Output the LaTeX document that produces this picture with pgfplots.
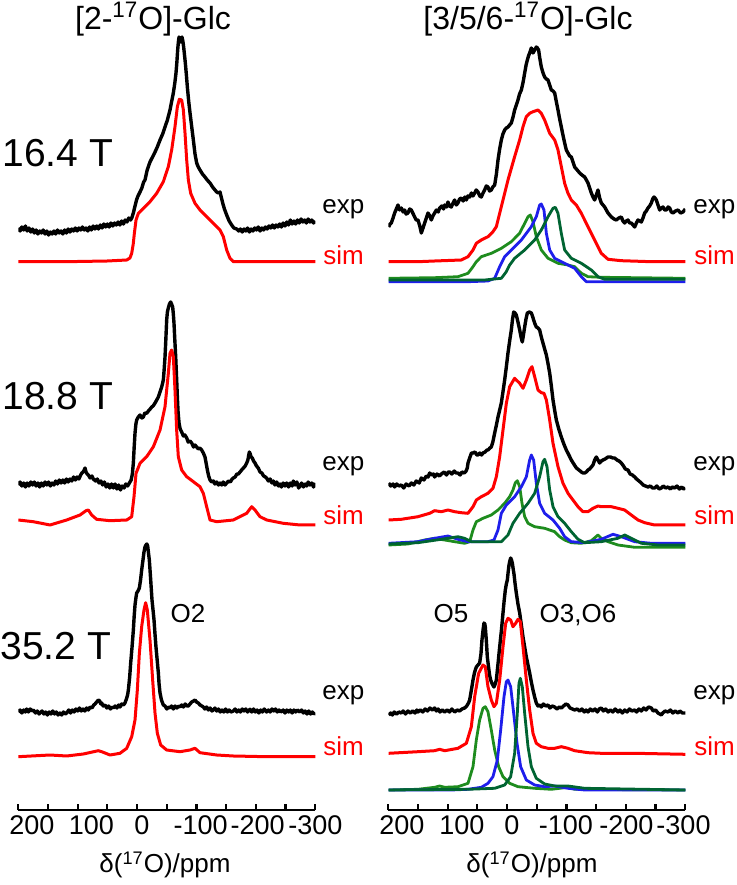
\documentclass[border=0pt]{standalone}
\usepackage{pgfplots}
\pgfplotsset{compat=1.18}
\usepackage{fontspec}
\setmainfont{Liberation Sans}
\definecolor{gA}{RGB}{30,140,30}
\definecolor{gB}{RGB}{0,100,50}
\definecolor{bl}{RGB}{30,30,235}
\newcommand\fs[1]{\fontsize{#1}{#1}\selectfont}
\begin{document}
\begin{tikzpicture}[x=1pt,y=1pt]
\path[use as bounding box] (0pt,0pt) rectangle (368pt,442.5pt);
\pgfplotsset{spec/.style={
  scale only axis, width=148.5pt, height=395pt, anchor=south west,
  x dir=reverse, xmin=-300, xmax=200, ymin=0, ymax=790,
  axis x line*=bottom, axis y line=none,
  xtick={200,150,...,-300}, xticklabels={},
  tick align=inside, major tick length=3pt,
  axis line style={line width=1.1pt, black},
  major tick style={line width=1.1pt, black},
  xticklabel style={font=\fs{13.5}, inner sep=2.5pt},
  extra x tick labels={200,100,0,-100,-200,-300},
  extra x tick style={major tick length=0pt},
  exp/.style={black, line width=1.7pt, line join=round},
  sim/.style={red, line width=1.5pt, line join=round},
  cmp/.style={line width=1.4pt, line join=round},
}}
% ---------------- left column ----------------
\begin{axis}[spec, at={(9.15pt,37.5pt)}, extra x ticks={177,77,-8,-107,-203,-300}]
% 16.4 T exp
\addplot[exp] coordinates {(200,582) (197,579) (194,583) (191,580) (188,584) (185,579) (182,582) (179,578) (176,581) (173,577) (170,580) (167,576) (164,579) (161,577) (158,580) (155,576) (152,579) (149,575) (146,578) (143,576) (140,579) (137,576) (134,580) (131,577) (128,579) (125,576) (122,580) (119,577) (116,581) (113,578) (110,581) (107,579) (104,582) (101,579) (98,582) (95,580) (92,583) (89,580) (86,582) (83,579) (80,583) (77,580) (74,584) (71,581) (68,584) (65,581) (62,585) (59,582) (56,586) (53,583) (50,586) (47,583) (44,587) (41,584) (38,587) (35,585) (32,588) (29,585) (26,589) (23,586) (20,590) (17,588) (14,592) (11,590) (9,592) (6.3,597) (3.5,604) (1,610) (-1.5,614) (-4.9,618) (-8,622) (-11,628) (-13.3,630) (-17,640) (-21.7,648) (-26,653) (-30.2,658) (-34,663) (-38.6,670) (-43,676) (-47,683) (-51,690) (-55.4,700) (-58,708) (-61,717) (-63.5,727) (-65.5,737) (-67,748) (-68.3,760) (-69.5,768) (-70.6,773) (-72,771) (-73.4,768) (-74.5,771) (-75.6,773) (-77,769) (-78.4,763) (-80,754) (-81.2,747) (-83,735) (-84.6,723) (-87,708) (-89.1,697) (-92,683) (-94.7,670) (-97.5,656) (-100.3,647) (-103,643) (-105.9,640) (-110,636) (-114.3,633) (-118,630) (-122.8,627) (-127,623) (-131.2,620) (-134,618) (-136.8,617) (-139.6,618) (-142,612) (-144.1,607) (-147,601) (-150.8,595) (-155,589) (-159.2,585) (-163,582) (-167.7,581) (-171,579) (-174,581) (-177,578) (-180,581) (-183,579) (-186,582) (-189,578) (-192,581) (-195,579) (-198,582) (-201,580) (-204,583) (-207,579) (-210,582) (-213,580) (-216,583) (-219,581) (-222,584) (-225,582) (-228,585) (-231,582) (-234,585) (-237,583) (-240,586) (-243,583) (-246,587) (-249,584) (-252,588) (-255,585) (-258,590) (-261,586) (-264,589) (-267,586) (-270,590) (-273,587) (-276,591) (-279,588) (-282,590) (-285,587) (-288,591) (-291,588) (-294,590) (-297,587) (-300,589)};
% 16.4 T sim
\addplot[sim] coordinates {(200,548.3) (150,548.3) (100,548.5) (50,549) (17.5,550) (12,552) (9.1,556.7) (6.5,566) (4.6,576.7) (1.8,590) (-2.1,596.7) (-10.5,601.7) (-21.7,608.3) (-33,616.7) (-44.2,628.3) (-52.6,643.3) (-58.2,660) (-63.8,683.3) (-67.8,703.3) (-71.1,710.7) (-75,710) (-77.9,700) (-80.7,676.7) (-83.5,650) (-86.3,630) (-90.2,616.7) (-97.5,606.7) (-105.9,600) (-117.1,593.3) (-128.4,586.7) (-139.6,580) (-145.2,573.3) (-150.8,560) (-156.4,551.7) (-162,548.3) (-200,548.3) (-250,548.3) (-300,548.3)};
% 18.8 T exp
\addplot[exp] coordinates {(200,325) (197,328) (194,324) (191,327) (188,323) (185,327) (182,324) (179,328) (176,325) (173,328) (170,324) (167,327) (164,323) (161,327) (158,324) (155,328) (152,325) (149,328) (146,324) (143,327) (140,325) (137,329) (134,326) (131,330) (128,327) (125,330) (122,327) (119,331) (116,328) (113,331) (110,329) (107,333) (104,330) (101,333) (98,331) (95,335) (93,337) (91,338) (89,340) (87.7,342) (86,338) (84,336) (82,335) (79,332) (76,334) (73.7,331) (70,329) (67,331) (64,327) (61,329) (58,325) (55,328) (52,323) (49,326) (46,322) (43,326) (40,322) (37,326) (34,321) (31,325) (28,320) (25,324) (22,322) (19,326) (16,324) (13,327) (10,330) (8,336) (6.3,347) (5,362) (3.5,377) (2,386) (0.7,390) (-2,393) (-4.9,395) (-8,392) (-10.5,393) (-13,397) (-16.1,396.7) (-19,399) (-22,401) (-24.6,403) (-27,404) (-30.2,407) (-33,410) (-35.8,413) (-38.5,418) (-41.4,423) (-43,427) (-44.2,430) (-45.5,440) (-47,453) (-48.5,472) (-49.8,490) (-51,498) (-52.6,502) (-54.5,506) (-56.5,508) (-58,506) (-59.9,503) (-61,496) (-62.1,487) (-63.5,470) (-65,453) (-66.5,432) (-67.8,413) (-69,398) (-70.6,387) (-72.5,381) (-75,378) (-78,374) (-80.5,375) (-83.5,372) (-86,368) (-89,369) (-91.9,367) (-95,363) (-97.5,365) (-100.3,363) (-103,361) (-105.5,362) (-108.7,360) (-111.5,357) (-114.3,353) (-116.5,346) (-118.3,340) (-120.5,334) (-122.8,330) (-125.5,328) (-128.4,329) (-131,326) (-134,328) (-137,325) (-139.6,327) (-142.5,325) (-145,328) (-148,325) (-150.8,327) (-154,329) (-157,328) (-160,331) (-162,332) (-165,333) (-168,336) (-170.5,336) (-173.3,338) (-176,340) (-179,342) (-182,344) (-184.5,347) (-186.5,350) (-188,355) (-189,358) (-190.5,356) (-192,353) (-194,352) (-196,349) (-198.5,347) (-201,344) (-204,342) (-207,338) (-210,337) (-213,334) (-216,333) (-218.2,331.7) (-221,329) (-224,331) (-227,327) (-229.4,329) (-232,325) (-235,328) (-238,324) (-240.6,326) (-243,323) (-246,327) (-249,324) (-251.8,327) (-255,323) (-258,327) (-261,324) (-263,329) (-266,325) (-269,328) (-272,322) (-274.3,324) (-277,327) (-280,323) (-283,326) (-285.5,324) (-288,328) (-291,325) (-294,327) (-297,323) (-300,327)};
% 18.8 T sim
\addplot[sim] coordinates {(200,290) (174.7,288.3) (146.6,285) (118.6,290) (96.1,295) (86,299.3) (82.1,300) (76.5,295) (68.1,290.7) (45.6,289.3) (17.5,290) (9.1,293.3) (5.2,313.3) (1.8,336.7) (-4.9,346.7) (-16.1,353.3) (-27.4,363.3) (-38.6,380) (-47,403.3) (-52.6,436.7) (-55.4,456.7) (-58.2,460) (-61,453.3) (-63.8,420) (-66.6,380) (-69.4,353.3) (-75,340) (-83.5,333.3) (-94.7,328.3) (-105.9,323.3) (-111.5,316.7) (-117.1,303.3) (-122.8,290) (-134,288.3) (-162,290) (-184.5,296.7) (-192.9,303.3) (-198.5,300) (-206.9,293.3) (-218.2,290) (-246.2,286.7) (-274.3,285) (-300,285)};
% 35.2 T exp
\addplot[exp] coordinates {(200,98) (197,100) (194,97) (191,100) (188,98) (185.9,101) (183,98) (180,101) (177,99) (174.7,100) (171,97) (168,99) (165,96) (163.5,97) (160,99) (157,96) (154,98) (151,95) (148,98) (145,96) (142,99) (139,96) (136,98) (133,95) (130,97) (127,95) (124,98) (121,96) (118.6,97) (115,100) (112,97) (109,100) (106,98) (103,101) (100,99) (97,102) (94,99) (91,101) (88,99) (85,102) (82,100) (79,103) (76,102) (73,105) (70.9,106) (68,108) (65.3,110) (63,109) (61,106) (59.6,107) (57,104) (54,105) (51,102) (48,104) (45,101) (42,103) (40,102) (37,104) (34,102) (31,105) (28.8,103) (26,106) (23,105) (20.4,107) (18,111) (16,115) (14.7,120) (12.5,133) (10.8,147) (8.5,163) (6.3,180) (5,193) (3.5,205) (2,212) (0.7,217) (-1.5,219) (-3.8,222) (-5.8,230) (-7.7,240) (-9.7,249) (-11.6,258) (-13.3,263) (-15,265) (-16.4,266) (-17.8,264) (-19.2,257) (-20.6,250) (-22,238) (-22.9,230) (-24,220) (-25.1,210) (-27,199) (-28.5,190) (-30,177) (-31.8,163) (-33.8,150) (-35.8,137) (-37,126) (-38.6,117) (-41,110) (-44.2,105) (-47,104) (-50,101) (-53,103) (-55.4,102) (-58,104) (-61,101) (-64,104) (-67,102) (-70,104) (-72.2,103) (-75,105) (-78,103) (-81,106) (-84,104) (-86.3,104) (-89,106) (-92,108) (-95,109) (-97.5,110) (-100,108) (-103.1,107) (-106,105) (-109,104) (-111.5,103) (-114,101) (-117,103) (-120,100) (-123,102) (-126,99) (-128.4,100) (-131,102) (-134,99) (-137,101) (-140,98) (-143,100) (-146,98) (-149,101) (-152,98) (-155,100) (-158,98) (-162,99) (-165,101) (-168,98) (-171,100) (-174,98) (-177,101) (-180,99) (-183,101) (-186,98) (-190,100.7) (-193,98) (-196,101) (-199,98) (-202,100) (-205,97) (-208,100) (-211,98) (-214,101) (-218,98) (-221,100) (-224,98) (-227,101) (-230,99) (-233,101) (-236,98) (-239,100) (-242,98) (-246,100) (-249,97) (-252,100) (-255,98) (-258,100) (-261,97) (-264,100) (-267,98) (-270,100) (-274,98) (-277,100) (-280,97) (-283,99) (-286,96) (-289,99) (-292,96) (-295,98) (-298,96) (-300,97)};
% 35.2 T sim
\addplot[sim] coordinates {(200,53.3) (146.6,55) (118.6,54) (90.5,56) (65.3,59.3) (59.6,58.3) (45.6,55) (28.8,56.7) (17.5,61.7) (9.1,73.3) (3.5,90) (-0.4,120) (-3.8,156.7) (-7.7,183.3) (-11.6,200) (-14.4,207.3) (-17.2,200) (-21.7,170) (-26.2,130) (-30.2,96.7) (-34.1,76.7) (-39.7,65) (-49.8,60) (-72.2,58.3) (-89.1,60) (-97.5,61.7) (-105.9,57.3) (-134,55) (-162,54) (-218.2,53.3) (-300,53.3)};
\end{axis}
% ---------------- right column ----------------
\begin{axis}[spec, at={(194.15pt,37.5pt)}, extra x ticks={177,76,-8,-99,-201,-297}]
% 16.4 T exp
\addplot[exp] coordinates {(199.4,583) (197,586) (194.9,587) (192,592) (189.3,597) (186.5,601) (183.7,605) (181,600) (178.1,602) (175,598) (172.5,600) (170,596) (166.9,597) (164,601) (161.2,600) (158,596) (155.6,593) (153,590) (150,590) (147,584) (144.4,577) (141.5,582) (138.8,587) (136,592) (133.2,597) (130,594) (127.6,590) (125,594) (122,597) (119,600) (116,598) (113.5,602) (110,604) (107,601) (105.1,605) (102,603) (99.5,608) (97,604) (93.9,603) (91,607) (88.3,610) (85.5,605) (82.7,607) (80,611) (77.1,612) (74,609) (71,613) (68.6,610) (66,614) (63,613) (60,617) (57.5,614) (54.6,617) (52,620) (49,618) (46,614) (43.4,613) (40.5,617) (37.8,620) (35,624) (32.2,623) (29.5,619) (26.6,620) (24,623) (20.9,625) (18,636) (15.3,650) (12.5,661) (9.7,670) (7,676) (4.1,680) (1.3,682) (-1.5,683) (-4.3,685) (-7.1,687) (-10,693) (-12.7,700) (-15.5,705) (-18.3,710) (-21,716) (-24,720) (-27,728) (-29.6,737) (-32,745) (-34.1,750) (-36,754) (-38,757) (-40.8,762) (-42.3,760) (-43.6,757) (-46.5,760) (-49.2,763) (-51,762) (-53.1,760) (-55,752) (-57.6,743) (-60.5,737) (-63.2,733) (-66,731) (-68.9,730) (-71.7,725) (-74.5,720) (-77.3,719) (-80.1,717) (-83,708) (-85.7,700) (-88.5,691) (-91.3,683) (-94,675) (-96.9,667) (-99.7,660) (-102.5,657) (-105.3,654) (-108.1,653) (-111,648) (-113.7,643) (-118,640) (-122.2,637) (-126,635) (-130.6,633) (-133.5,630) (-136.2,627) (-139,622) (-141.8,617) (-144.6,613) (-147.4,610) (-150.2,615) (-153,620) (-155.8,612) (-158.6,607) (-161.5,605) (-164.3,603) (-167,600) (-169.9,597) (-172.7,595) (-175.5,593) (-180,591) (-183.9,590) (-188,592) (-192.3,593) (-195,589) (-197.9,587) (-200.7,589) (-203.5,590) (-206.3,587) (-209.1,587) (-212,585) (-214.8,583) (-217.6,587) (-220.4,590) (-223.2,589) (-226,588) (-228.8,592) (-231.6,597) (-234.4,599) (-237.2,602) (-240,604) (-242.8,607) (-245,611) (-247.3,613) (-249,612) (-251.2,610) (-254,605) (-256.9,600) (-259.7,602) (-262.5,603) (-265.3,600) (-268.1,600) (-271,603) (-273.7,602) (-276.5,598) (-279.3,597) (-283.5,599) (-287.7,600) (-292,597) (-296.1,598) (-300,601)};
% 16.4 T sim
\addplot[sim] coordinates {(199.4,548.3) (150,548.3) (122,549) (77.1,550) (65.8,553.3) (57.4,560) (51.8,566.7) (43.4,570) (32.2,573.3) (23.8,578.3) (18.1,583.3) (12.5,596.7) (6.9,610) (-1.5,630) (-12.7,653.3) (-21.1,670) (-26.8,683.3) (-32.4,693.3) (-38,696.7) (-43.6,698.3) (-52,700) (-57.6,696.7) (-63.2,690) (-71.7,676.7) (-80.1,670) (-85.7,660) (-91.3,643.3) (-96.9,626.7) (-102.5,616.7) (-108.1,610) (-116.5,605) (-125,596.7) (-136.2,583.3) (-147.4,570) (-158.6,556.7) (-169.9,550.7) (-192.3,549.3) (-242.8,548.3) (-300,548.3)};
% 16.4 T components
\addplot[gA, cmp] coordinates {(199.4,531.7) (122,532.3) (82.7,533.3) (65.8,536.7) (57.4,543.3) (51.8,548.3) (43.4,553.3) (26.6,556.7) (9.7,561.7) (-7.1,568.3) (-21.1,576.7) (-29.6,586.7) (-35.2,593.3) (-39.1,595) (-43.6,588.3) (-49.2,573.3) (-57.6,560) (-68.9,551.7) (-85.7,546.7) (-102.5,545) (-113.7,543.3) (-125,536.7) (-136.2,533.3) (-158.6,532.7) (-300,531.7)};
\addplot[bl, cmp] coordinates {(199.4,528.3) (65.8,528.3) (32.2,529) (20.9,531.7) (12.5,543.3) (4.1,553.3) (-7.1,560) (-24,570) (-40.8,583.3) (-49.2,593.3) (-54.8,605) (-57.6,606) (-62.1,600) (-66.1,576.7) (-71.7,560) (-80.1,551.7) (-96.9,546.7) (-113.7,541.7) (-125,533.3) (-133.4,528.3) (-300,528.3)};
\addplot[gB, cmp] coordinates {(199.4,530) (37.8,530) (9.7,531.7) (1.3,538.3) (-4.3,545) (-12.7,551.7) (-29.6,560) (-46.4,570) (-57.6,580) (-68.9,593.3) (-77.3,601.7) (-81.2,602.7) (-85.7,596.7) (-91.3,576.7) (-96.9,560) (-108.1,551.7) (-125,546.7) (-141.8,540) (-153,533.3) (-164.3,530.7) (-300,530.7)};
% 18.8 T exp
\addplot[exp] coordinates {(199.4,327) (196,324) (192,326) (189.3,323) (186,326) (182,324) (178.1,325) (174,322) (170,326) (165,324) (161.2,327) (157,325) (153,329) (148,327) (144.4,332) (140,330) (136,334) (133,333) (130.4,337) (127,335) (124,336) (122,333) (118,336) (114,334) (110.7,336) (106,338) (102,335) (99,338) (96.7,338) (93,336) (89,339) (86,337) (82.7,337) (79,335) (76,338) (72,337) (69,339) (67,342) (65.8,347) (63,352) (60,357) (57.4,357) (54,358) (51,355) (49,355) (46,357) (43,355) (40.6,357) (37,358) (34,360) (32.2,360) (29,362) (26.6,363) (24,368) (20.9,377) (18,385) (15.3,393) (12.5,400) (9.7,407) (7,418) (4.1,430) (1.3,443) (-1.5,457) (-4.3,469) (-7.1,480) (-9,490) (-11.1,498) (-13.3,497) (-15.5,495) (-18.3,488) (-21.2,480) (-23.5,473) (-25.6,468) (-27.5,475) (-29.6,483) (-31.8,491) (-34.1,497) (-37.5,498) (-40.8,497) (-42.7,494) (-44.7,490) (-47,486) (-49.2,483) (-52,482) (-54.8,480) (-57.6,473) (-60.4,467) (-63.2,461) (-66.1,455) (-69,446) (-71.7,437) (-74.5,424) (-77.3,410) (-80,400) (-82.9,390) (-87,381) (-91.3,373) (-95.5,366) (-99.7,360) (-104,355) (-108.1,350) (-112.3,346) (-116.6,342) (-121,340) (-125,338) (-127.8,337) (-130.6,337) (-133.4,338) (-136.2,340) (-139,341) (-141.8,343) (-144.6,345) (-147.4,350) (-150.2,353) (-153,350) (-155.8,347) (-158.6,349) (-161.4,350) (-165,351) (-169.9,353) (-174,353) (-178,352) (-181.1,352) (-185,350) (-188.5,349) (-192.3,347) (-196,344) (-199,341) (-203.5,340) (-207,336) (-211,335) (-214.8,333) (-218,331) (-222,329) (-226,327) (-229,325) (-233,324) (-237.2,323) (-241,324) (-245,322) (-248.4,322) (-252,324) (-256,321) (-259.7,322) (-263,324) (-267,322) (-270.9,323) (-275,321) (-278,323) (-282.1,322) (-286,324) (-290,321) (-294,323) (-297,321) (-300,322)};
% 18.8 T sim
\addplot[sim] coordinates {(199.4,290) (178.1,290.7) (150,293.3) (130.4,296.7) (122,299.3) (110.7,298.3) (99.5,300) (88.3,298.3) (77.1,297.3) (65.8,296.7) (57.4,303.3) (51.8,310) (43.4,313.3) (32.2,316.7) (23.8,321.7) (18.1,333.3) (12.5,353.3) (6.9,380) (1.3,406.7) (-4.3,423.3) (-12.7,431.7) (-21.2,426.7) (-26.8,421.7) (-32.4,430) (-38,440) (-41.9,443.3) (-46.4,433.3) (-52,420) (-57.6,417.3) (-62.1,416.7) (-66.1,410) (-71.7,390) (-77.3,366.7) (-85.7,343.3) (-94.1,326.7) (-102.5,316.7) (-110.9,310) (-119.4,303.3) (-127.8,298.3) (-136.2,298.3) (-144.6,301.7) (-153,304) (-158.6,303.3) (-167.1,303.3) (-175.5,303.3) (-186.7,301.7) (-197.9,300) (-209.1,295) (-220.4,290) (-231.6,287.3) (-248.4,285) (-300,285)};
% 18.8 T components
\addplot[gA, cmp] coordinates {(199.4,265) (166.9,266) (138.8,270) (122,271.7) (105.1,270) (88.3,268.3) (71.5,266.7) (63,268.3) (57.4,280) (51.8,288.3) (40.6,291.7) (26.6,295) (15.3,300) (4.1,306.7) (-4.3,313.3) (-9.9,320) (-13.9,327.3) (-17.2,329.3) (-21.2,323.3) (-25.1,306.7) (-29.6,293.3) (-35.2,286.7) (-46.4,283.3) (-63.2,281.7) (-80.1,278.3) (-88.5,273.3) (-96.9,270) (-108.1,267.3) (-125,266.7) (-141.8,269.3) (-153,275) (-158.6,271.7) (-169.9,268.3) (-186.7,265) (-214.8,262.7) (-300,262.7)};
\addplot[bl, cmp] coordinates {(199.4,266.7) (150,268.3) (122,271.7) (99.5,274) (82.7,270.7) (65.8,268.3) (32.2,268.3) (22.1,270) (15.3,280) (9.7,296.7) (1.3,305) (-12.7,313.3) (-24,323.3) (-32.4,333.3) (-38,350) (-40.8,355) (-44.7,350) (-49.2,326.7) (-54.8,306.7) (-63.2,296.7) (-77.3,290) (-88.5,281.7) (-96.9,273.3) (-108.1,268.3) (-130.6,267.3) (-158.6,270.7) (-178.3,275.7) (-192.3,273.3) (-214.8,268.3) (-242.8,266.7) (-300,266.7)};
\addplot[gB, cmp] coordinates {(199.4,266) (150,267.3) (110.7,270.7) (82.7,273.3) (71.5,271.7) (60.2,268.3) (9.7,268.3) (-1.5,275) (-9.9,286.7) (-21.2,296.7) (-35.2,306.7) (-46.4,316.7) (-54.8,333.3) (-60.4,348.3) (-63.2,350.7) (-67.2,343.3) (-71.7,320) (-77.3,303.3) (-85.7,293.3) (-96.9,286.7) (-108.1,278.3) (-119.4,270.7) (-130.6,267.3) (-158.6,268.3) (-186.7,271.7) (-197.9,275) (-209.1,271.7) (-226,266.7) (-254,265) (-300,265)};
% 35.2 T exp
\addplot[exp] coordinates {(199.4,95) (196,97) (193,95) (190,98) (186,96) (182,98) (178.1,97) (175,99) (171,96) (167,99) (163,97) (159,99) (155,97) (152,100) (150,98) (146,100) (142,98) (138,101) (134,99) (130,102) (126,100) (122,102) (119,99) (116,101) (113,98) (109,100) (105.1,98) (101,100) (97,98) (93,101) (88.3,98) (84,100) (80,99) (76,101) (71.5,102) (68,104) (65,107) (63,110) (61,117) (59,124) (57.4,130) (55,137) (53,141) (51.8,143) (49,145) (46.2,147) (44,156) (42.3,170) (40.5,180) (38.9,187) (37.5,186) (36.7,183) (35,170) (33.3,153) (31,142) (29.5,135) (27.7,130) (25,126) (22.1,123) (20,126) (18.1,130) (15.5,145) (12.5,163) (9.5,180) (6.9,197) (5,209) (3,220) (1.3,226) (-0.4,230) (-1.8,238) (-3.2,245) (-4.6,249) (-6,252) (-7.4,250) (-8.8,247) (-10,242) (-11.6,236) (-13.5,226) (-15.5,217) (-18.3,206) (-21.2,197) (-24,185) (-26.8,173) (-29.6,163) (-32.4,153) (-35.2,145) (-38,137) (-40.8,128) (-43.6,120) (-46.4,113) (-49.2,107) (-52,104) (-55,105) (-57.6,103) (-61,106) (-65,104) (-68.9,105) (-72,102) (-76,104) (-80.1,103) (-84,101) (-88,103) (-91.3,102) (-95,104) (-99,106) (-102.5,105) (-106,102) (-110,101) (-113.7,100) (-118,101) (-122,99) (-126,101) (-130,98) (-133,100) (-136.2,98) (-140,101) (-144,99) (-148,101) (-152,98) (-155,101) (-158.6,102) (-162,99) (-166,101) (-170,98) (-174,100) (-178,98) (-182,101) (-186.7,98) (-190,100) (-194,97) (-198,100) (-202,98) (-206,101) (-210,99) (-214.8,100) (-218,98) (-222,101) (-226,99) (-230,102) (-234,100) (-238,103) (-242.8,102) (-246,99) (-250,100) (-254,97) (-257,96) (-259.7,95) (-262,97) (-266,99) (-270.9,98) (-275,100) (-279,97) (-283,99) (-287.7,97) (-291,99) (-295,97) (-300,97)};
% 35.2 T sim
\addplot[sim] coordinates {(199.4,56.7) (150,58.3) (122,59.3) (113.5,60.7) (105.1,59.3) (82.7,61.7) (68.6,66.7) (60.2,83.3) (54.6,113.3) (47.9,136.7) (40.6,145) (36.7,143.3) (32.2,123.3) (26.6,110) (22.1,103.3) (18.1,106.7) (12.5,130) (6.9,163.3) (2.4,186.7) (-1.5,191.7) (-6,190) (-9.9,183.3) (-14.4,186.7) (-18.3,190.7) (-22.3,188.3) (-26.8,163.3) (-32.4,130) (-38,100) (-43.6,76.7) (-49.2,66.7) (-57.6,63.3) (-68.9,61.7) (-80.1,61.7) (-91.3,63.3) (-102.5,61.7) (-113.7,59.3) (-136.2,57.3) (-158.6,56.7) (-214.8,56.7) (-300,55.7)};
% 35.2 T components
\addplot[gA, cmp] coordinates {(199.4,20) (150,20.7) (122,22.7) (113.5,24) (105.1,22.7) (82.7,23.3) (65.8,26.7) (57.4,43.3) (51.8,70) (46.2,90) (40.6,101.7) (36.7,103.3) (32.2,98.3) (26.6,80) (20.9,60) (14.2,43.3) (6.9,33.3) (-4.3,26.7) (-18.3,23.3) (-46.4,21.7) (-74.5,20.7) (-102.5,22.7) (-113.7,20.7) (-300,20)};
\addplot[bl, cmp] coordinates {(199.4,20) (93.9,20) (65.8,20.7) (43.4,22.7) (32.2,26.7) (23.8,33.3) (16.4,50) (10.8,80) (5.2,113.3) (1.3,128.3) (-1.5,130) (-6,123.3) (-11.1,96.7) (-16.7,66.7) (-22.8,43.3) (-32.4,30) (-46.4,25) (-63.2,23.3) (-80.1,24) (-102.5,21.7) (-130.6,20) (-300,20)};
\addplot[gB, cmp] coordinates {(199.4,20) (65.8,20.7) (20.9,21.7) (4.1,25) (-6,33.3) (-12.7,56.7) (-17.2,96.7) (-20,126.7) (-22.3,131.7) (-25.6,123.3) (-29.6,96.7) (-35.2,63.3) (-40.8,43.3) (-49.2,31.7) (-63.2,26) (-80.1,24) (-102.5,24) (-130.6,21.7) (-300,20)};
\end{axis}
% ---------------- texts ----------------
\node[anchor=base, inner sep=0pt] at (76.5pt,427.6pt) {\fs{16}[2-\textsuperscript{17}O]-Glc};
\node[anchor=base, inner sep=0pt] at (264pt,427.6pt) {\fs{16}[3/5/6-\textsuperscript{17}O]-Glc};
\node[anchor=base west, inner sep=0pt] at (1pt,359pt) {\fs{19.5}16.4 T};
\node[anchor=base west, inner sep=0pt] at (1pt,237.5pt) {\fs{19.5}18.8 T};
\node[anchor=base west, inner sep=0pt] at (0pt,112.5pt) {\fs{19.5}35.2 T};
\foreach \xx in {161,346.5}{
  \node[anchor=base west, inner sep=0pt] at (\xx pt,335.8pt) {\fs{13}exp};
  \node[anchor=base west, inner sep=0pt, text=red] at (\xx pt+0.5pt,310pt) {\fs{13}sim};
  \node[anchor=base west, inner sep=0pt] at (\xx pt,207pt) {\fs{13}exp};
  \node[anchor=base west, inner sep=0pt, text=red] at (\xx pt+0.5pt,180.4pt) {\fs{13}sim};
  \node[anchor=base west, inner sep=0pt] at (\xx pt,92.5pt) {\fs{13}exp};
  \node[anchor=base west, inner sep=0pt, text=red] at (\xx pt+0.5pt,64.6pt) {\fs{13}sim};
}
\node[anchor=base] at (94pt,131pt) {\fs{13}O2};
\node[anchor=base] at (225.5pt,131pt) {\fs{13}O5};
\node[anchor=base] at (289pt,131pt) {\fs{13}O3,O6};
\node[anchor=base] at (82.5pt,6pt) {\fs{13}δ(\textsuperscript{17}O)/ppm};
\node[anchor=base] at (266pt,6pt) {\fs{13}δ(\textsuperscript{17}O)/ppm};
\end{tikzpicture}
\end{document}
